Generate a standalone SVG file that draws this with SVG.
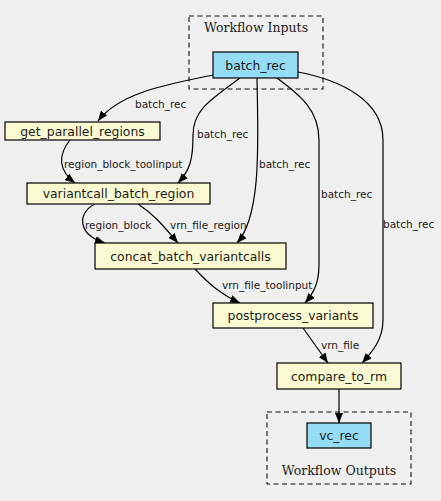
<svg xmlns="http://www.w3.org/2000/svg" width="441" height="501" viewBox="0 0 441 501">
<defs>
<marker id="arr" markerWidth="10" markerHeight="8" refX="10" refY="4" orient="auto" markerUnits="userSpaceOnUse">
<path d="M0,0 L10,4 L0,8 Z" fill="#000"/>
</marker>
<style>
.cluster{fill:none;stroke:#111;stroke-width:1.1;stroke-dasharray:5,3.5}
.clabel{font-family:"DejaVu Serif",serif;font-size:12.5px;fill:#222;text-anchor:middle}
.step{fill:#fafad2;stroke:#000;stroke-width:1.2}
.io{fill:#94dcf4;stroke:#000;stroke-width:1.2}
.nlabel{font-family:"DejaVu Sans",sans-serif;font-size:12.4px;fill:#1a1a1a;text-anchor:middle}
.edge{fill:none;stroke:#000;stroke-width:1.2}
.elabel{font-family:"DejaVu Sans",sans-serif;font-size:10.5px;fill:#1a1a1a}
</style>
</defs>
<rect width="441" height="501" fill="#efefef"/>
<g id="cluster_inputs">
<rect class="cluster" x="189" y="16" width="134" height="73"/>
<text class="clabel" x="256" y="32">Workflow Inputs</text>
</g>
<g id="cluster_outputs">
<rect class="cluster" x="267" y="412" width="144" height="72"/>
<text class="clabel" x="339" y="475">Workflow Outputs</text>
</g>
<g id="connectors">
<path class="edge" marker-end="url(#arr)" d="M213,75 C170,84 120,92 98,121"/>
<text class="elabel" x="135" y="108">batch_rec</text>
<path class="edge" marker-end="url(#arr)" d="M240,78 C210,100 193,110 193,135 C193,160 190,170 178,183"/>
<text class="elabel" x="197" y="138">batch_rec</text>
<path class="edge" marker-end="url(#arr)" d="M257,78 C258,140 262,215 237,243"/>
<text class="elabel" x="259" y="168">batch_rec</text>
<path class="edge" marker-end="url(#arr)" d="M277,78 C300,95 319,110 319,140 L319,265 C319,285 312,295 305,303"/>
<text class="elabel" x="321" y="198">batch_rec</text>
<path class="edge" marker-end="url(#arr)" d="M298,72 C340,80 383,100 383,140 L383,320 C383,340 372,352 362,363"/>
<text class="elabel" x="383" y="228">batch_rec</text>
<path class="edge" marker-end="url(#arr)" d="M70,140 C58,155 58,170 75,183"/>
<text class="elabel" x="64" y="168">region_block_toolinput</text>
<path class="edge" marker-end="url(#arr)" d="M95,204 C78,212 76,234 105,243"/>
<text class="elabel" x="85" y="229">region_block</text>
<path class="edge" marker-end="url(#arr)" d="M138,204 C155,215 165,228 178,243"/>
<text class="elabel" x="170" y="229">vrn_file_region</text>
<path class="edge" marker-end="url(#arr)" d="M195,269 C210,285 222,295 240,303"/>
<text class="elabel" x="222" y="289">vrn_file_toolinput</text>
<path class="edge" marker-end="url(#arr)" d="M303,328 L328,363"/>
<text class="elabel" x="321" y="349">vrn_file</text>
<path class="edge" marker-end="url(#arr)" d="M339,389 L339,423"/>
</g>
<g id="batch_rec">
<rect class="io" x="213" y="52" width="85" height="26"/>
<text class="nlabel" x="255.5" y="69.5">batch_rec</text>
</g>
<g id="get_parallel_regions">
<rect class="step" x="5" y="122" width="155" height="18"/>
<text class="nlabel" x="82.5" y="135.5">get_parallel_regions</text>
</g>
<g id="variantcall_batch_region">
<rect class="step" x="27" y="183" width="183" height="21"/>
<text class="nlabel" x="118.5" y="198">variantcall_batch_region</text>
</g>
<g id="concat_batch_variantcalls">
<rect class="step" x="95" y="243" width="191" height="26"/>
<text class="nlabel" x="190.5" y="260.5">concat_batch_variantcalls</text>
</g>
<g id="postprocess_variants">
<rect class="step" x="213" y="303" width="160" height="25"/>
<text class="nlabel" x="293" y="320">postprocess_variants</text>
</g>
<g id="compare_to_rm">
<rect class="step" x="277" y="363" width="124" height="26"/>
<text class="nlabel" x="339" y="380.5">compare_to_rm</text>
</g>
<g id="vc_rec">
<rect class="io" x="307" y="423" width="64" height="25"/>
<text class="nlabel" x="339" y="440">vc_rec</text>
</g>
</svg>
